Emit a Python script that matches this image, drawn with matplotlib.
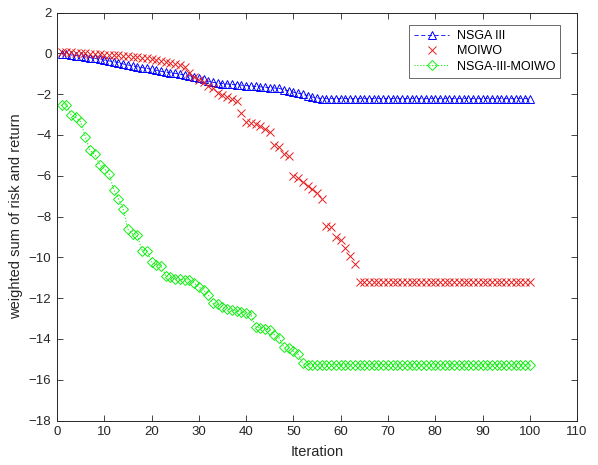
import numpy as np
import matplotlib
matplotlib.use("Agg")
import matplotlib.pyplot as plt

plt.rcParams['font.family'] = ['Liberation Sans', 'DejaVu Sans']

iterations = np.arange(1, 101)

nsga3 = [
    -0.03, -0.05, -0.08, -0.11, -0.14, -0.17, -0.21, -0.25, -0.29, -0.33,
    -0.37, -0.41, -0.45, -0.52, -0.57, -0.62, -0.66, -0.70, -0.74, -0.78,
    -0.83, -0.88, -0.92, -0.95, -0.98, -1.02, -1.06, -1.10, -1.15, -1.20,
    -1.28, -1.36, -1.42, -1.46, -1.48, -1.50, -1.52, -1.54, -1.56, -1.58,
    -1.60, -1.62, -1.64, -1.66, -1.68, -1.70, -1.72, -1.78, -1.84, -1.90,
    -1.95, -2.00, -2.08, -2.14, -2.18,
] + [-2.22] * 45

moiwo = [
    0.08, 0.06, 0.05, 0.03, 0.02, 0.00, -0.02, -0.03, -0.05, -0.06,
    -0.07, -0.09, -0.10, -0.12, -0.14, -0.16, -0.19, -0.22, -0.25, -0.28,
    -0.31, -0.36, -0.40, -0.46, -0.52, -0.58, -0.66, -0.95, -1.14, -1.30,
    -1.42, -1.58, -1.70, -1.92, -2.02, -2.15, -2.25, -2.32, -2.94, -3.38,
    -3.42, -3.48, -3.55, -3.70, -3.84, -4.50, -4.60, -4.95, -5.05, -6.00,
    -6.12, -6.30, -6.50, -6.65, -6.85, -7.15, -8.48, -8.52, -8.98, -9.15,
    -9.55, -9.95, -10.32,
] + [-11.20] * 37

hybrid = [
    -2.53, -2.53, -3.02, -3.14, -3.36, -4.10, -4.76, -4.95, -5.45, -5.65,
    -5.90, -6.68, -7.12, -7.63, -8.63, -8.86, -8.92, -9.67, -9.67, -10.21,
    -10.35, -10.40, -10.90, -10.98, -11.05, -11.08, -11.10, -11.10, -11.25, -11.45,
    -11.60, -11.85, -12.25, -12.30, -12.42, -12.52, -12.58, -12.64, -12.68, -12.72,
    -12.80, -13.40, -13.45, -13.50, -13.58, -13.80, -13.95, -14.40, -14.45, -14.60,
    -14.75, -15.20,
] + [-15.27] * 48

x_ticks = list(range(0, 111, 10))
y_ticks = list(range(-18, 3, 2))

axis_gray = '#262626'

fig = plt.figure(figsize=(5.98, 4.65), dpi=100)
ax = fig.add_axes([0.0953, 0.0955, 0.8697, 0.8775])

ax.plot(iterations, nsga3, color='#0000ff', linestyle=(0, (5, 3)), linewidth=0.6,
        marker='^', markersize=5.5, markerfacecolor='none', markeredgewidth=0.7,
        label='NSGA III')
ax.plot(iterations, moiwo, color='#e81c1c', linestyle='none',
        marker='x', markersize=6, markeredgewidth=0.7, label='MOIWO')
ax.plot(iterations, hybrid, color='#11ee11', linestyle=':', linewidth=0.8,
        marker='D', markersize=5, markerfacecolor='none', markeredgewidth=0.7,
        label='NSGA-III-MOIWO')

ax.set_xlim(0, 110)
ax.set_ylim(-18, 2)
ax.set_xticks(x_ticks)
ax.set_yticks(y_ticks)
ax.tick_params(direction='in', top=True, right=True, labelsize=9.5,
               length=4, width=0.6, pad=4, colors=axis_gray)
for s in ax.spines.values():
    s.set_linewidth(0.7)
    s.set_color(axis_gray)

ax.set_xlabel('Iteration', fontsize=10.5, labelpad=5, color=axis_gray)
ax.set_ylabel('weighted sum of risk and return', fontsize=10.5, labelpad=4,
              color=axis_gray)

leg = ax.legend(loc='upper right', bbox_to_anchor=(0.975, 0.978), fontsize=9,
                frameon=True, fancybox=False, edgecolor=axis_gray,
                borderpad=0.4, labelspacing=0.25, handlelength=2.8,
                handletextpad=0.6, borderaxespad=0.3)
leg.get_frame().set_linewidth(0.6)

fig.savefig('out.png', dpi=100)
